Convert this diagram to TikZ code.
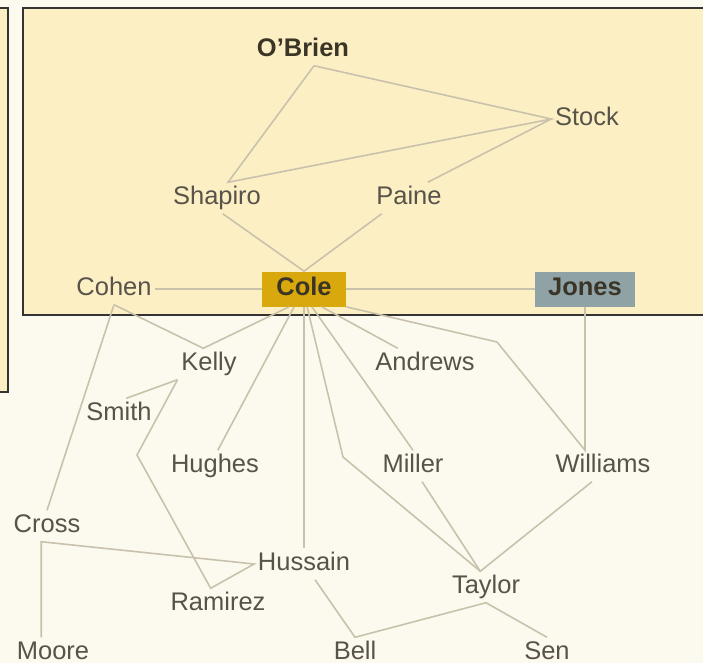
\documentclass[tikz,border=0pt]{standalone}
\usepackage{fontspec}
\setmainfont{Liberation Sans}
\definecolor{paper}{HTML}{FCF9EE}
\definecolor{boxfill}{HTML}{FDEFC4}
\definecolor{colegold}{HTML}{D8A80C}
\definecolor{jonesblue}{HTML}{8FA3A7}
\definecolor{namegray}{HTML}{57534A}
\definecolor{namedark}{HTML}{3A3526}
\definecolor{linkgray}{HTML}{C8C2AC}
\tikzset{
  person/.style={text=namegray,font=\fontsize{14.5}{16}\selectfont,inner sep=2pt,text height=10.5pt,text depth=3pt},
  tag/.style={person,text=namedark,font=\fontsize{14.5}{16}\selectfont\bfseries,minimum width=1.68cm,minimum height=0.7cm},
  link/.style={draw=linkgray,line width=0.9pt}
}

\begin{document}
\begin{tikzpicture}[x=0.02cm,y=-0.02cm]
\useasboundingbox (0,0) rectangle (703,663);
\fill[paper] (0,0) rectangle (703,663);
\draw[fill=boxfill,line width=1.1pt,draw=black!80] (-10,8) rectangle (8,392);
\draw[fill=boxfill,line width=1.1pt,draw=black!80] (23,8) rectangle (715,315);

% names
\node[person,text=namedark,font=\fontsize{14.5}{16}\selectfont\bfseries] (obrien) at (303,50) {O'Brien};
\foreach \n/\x/\y in {Stock/587/119,Shapiro/217/198,Paine/409/198,Cohen/114/289,
  Kelly/209/364,Andrews/425/364,Smith/119/414,Hughes/215/466,Miller/413/466,
  Williams/603/466,Cross/47/526,Hussain/304/564,Ramirez/218/604,Taylor/486/587,
  Moore/53/653,Bell/355/653,Sen/547/653}
  \node[person] (\n) at (\x,\y) {\n};
\node[tag,fill=colegold] (Cole) at (304,289) {Cole};
\node[tag,fill=jonesblue,minimum width=2cm] (Jones) at (585,289) {Jones};

% bends
\coordinate (kbend) at (137,455);
\coordinate (tbend) at (343,457);
\coordinate (wbend) at (497,342);

% inside the box
\draw[link] (obrien.-55) -- (Shapiro.55) -- (Stock.west) -- (obrien.-55);
\draw[link] (Paine.40) -- (Stock.west);
\draw[link] (Shapiro.-70) -- (Cole.north) -- (Paine.-150);
\draw[link] (Cohen) -- (Cole) -- (Jones);

% below the box
\draw[link] (Cohen.south) -- (Kelly.110) -- (Cole.-130);
\draw[link] (Cohen.south) -- (Cross.north);
\draw[link] (Kelly.south west) -- (Smith.65);
\draw[link] (Kelly.south west) -- (kbend) -- (Ramirez.115) -- (Hussain.west) -- (Cross.250) -- (Cross.250 |- Moore.north);
\draw[link] (Cole.-119) -- (Hughes.80);
\draw[link] (Cole.south) -- (Hussain.north);
\draw[link] (Cole.-80) -- (tbend) -- (Taylor.110);
\draw[link] (Cole.-66) -- (Miller.north);
\draw[link] (Cole.-45) -- (Andrews.150);
\draw[link] (Cole.south east) -- (wbend) -- (Williams.north -| Jones.south) -- (Jones.south);
\draw[link] (Miller.-60) -- (Taylor.110) -- (Williams.-125);
\draw[link] (Hussain.-55) -- (Bell.north) -- (Taylor.south) -- (Sen.north);
\end{tikzpicture}
\end{document}
